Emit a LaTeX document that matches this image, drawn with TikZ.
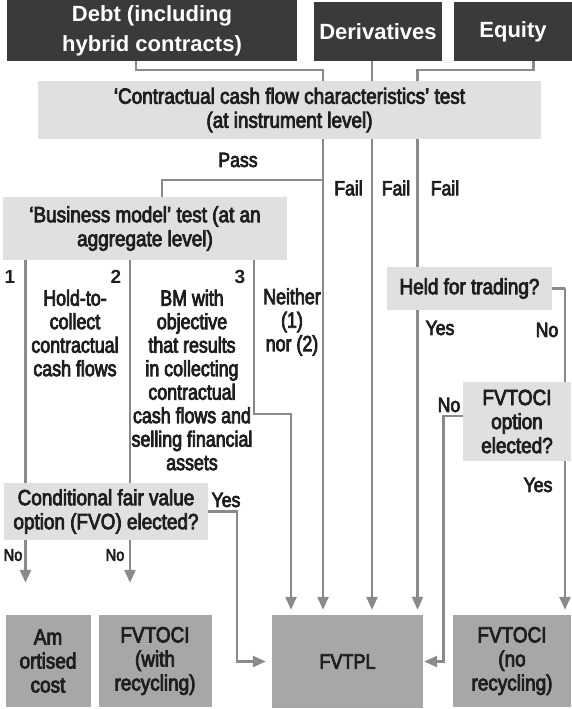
\documentclass[tikz,border=0pt]{standalone}
\usepackage{fontspec}
\newfontfamily\headfont{Liberation Sans}
\newfontfamily\boxfont{Liberation Sans}[FakeStretch=0.86,FakeBold=3.5]
\newfontfamily\descfont{Liberation Sans}[FakeStretch=0.81,FakeBold=3.5]
\usetikzlibrary{arrows.meta,positioning,calc}
\definecolor{darkbox}{HTML}{3A3A3A}
\definecolor{lightbox}{HTML}{E0E0E0}
\definecolor{midbox}{HTML}{A7A7A7}
\definecolor{linegray}{HTML}{8A8A8A}
\definecolor{inkgray}{HTML}{1E1E1E}
\tikzset{
  head/.style={fill=darkbox,text=white,inner sep=0pt,align=center,font=\headfont\bfseries\fontsize{22}{30}\selectfont},
  test/.style={fill=lightbox,text=inkgray,inner sep=0pt,align=center,font=\boxfont\fontsize{22}{24}\selectfont},
  result/.style={fill=midbox,text=inkgray,inner sep=0pt,align=center,font=\boxfont\fontsize{22}{24}\selectfont},
  desc/.style={text=inkgray,inner sep=0pt,align=center,font=\descfont\fontsize{22}{23.5}\selectfont},
  lbl/.style={text=inkgray,inner sep=0pt,font=\boxfont\fontsize{20.5}{23}\selectfont},
  small/.style={text=inkgray,inner sep=0pt,font=\boxfont\fontsize{17}{20}\selectfont},
  num/.style={text=inkgray,inner sep=0pt,font=\headfont\bfseries\fontsize{19}{22}\selectfont},
  line/.style={draw=linegray,line width=2.5pt},
  arrow/.style={line,shorten >=5pt,-{Triangle[length=13pt,width=11pt]}}
}

\begin{document}
\begin{tikzpicture}[x=1pt,y=-1pt]
  \useasboundingbox (0,0) rectangle (572,709);

  \node[head,minimum width=290pt,minimum height=61pt] (debt)   at (152,30.5) {Debt (including\\hybrid contracts)};
  \node[head,minimum width=128pt,minimum height=59pt] (deriv)  at (378,31.5) {Derivatives};
  \node[head,minimum width=118pt,minimum height=59pt] (equity) at (513,31.5) {Equity};

  \node[test,minimum width=503pt,minimum height=58pt] (cash)   at (289.5,110)   {‘Contractual cash flow characteristics’ test\\(at instrument level)};
  \node[test,minimum width=284pt,minimum height=63pt] (bm)     at (145,228.5)   {‘Business model’ test (at an\\aggregate level)};
  \node[test,minimum width=204pt,minimum height=57pt] (fvo)    at (106,511.5)   {Conditional fair value\\option (FVO) elected?};
  \node[test,minimum width=165pt,minimum height=43pt] (trade)  at (469.5,288.5) {Held for trading?};
  \node[test,minimum width=108pt,minimum height=79pt] (ociopt) at (517,421.5)   {FVTOCI\\option\\elected?};

  \node[result,minimum width=85pt,minimum height=92pt]    (amort)    at (48,661)      {Am\\ortised\\cost};
  \node[result,minimum width=113pt,minimum height=92pt]   (ocirec)   at (155,661)     {FVTOCI\\(with\\recycling)};
  \node[result,minimum width=151pt,minimum height=93pt,font=\boxfont\fontsize{21}{24}\selectfont] (fvtpl) at (347.5,661.5) {\raisebox{-5pt}{FVTPL}};
  \node[result,minimum width=118.5pt,minimum height=92pt] (ocinorec) at (512,661)     {FVTOCI\\(no\\recycling)};

  \node[lbl] (pass)  at (238,160)   {Pass};
  \node[lbl] (fail1) at (348.5,188) {Fail};
  \node[lbl] (fail2) at (396,188)   {Fail};
  \node[lbl] (fail3) at (445,188)   {Fail};
  \node[num] (one)   at (10,277)    {1};
  \node[num] (two)   at (116,277)   {2};
  \node[num] (three) at (240,277)   {3};
  \node[desc] (collect) at (75,333)  {Hold-to-\\collect\\contractual\\cash flows};
  \node[desc] (both)    at (192,380) {BM with\\objective\\that results\\in collecting\\contractual\\cash flows and\\selling financial\\assets};
  \node[desc] (neither) at (292,322) {Neither\\(1)\\nor (2)};
  \node[lbl]   (fvoyes)  at (226,500) {Yes};
  \node[small] (fvono1)  at (13,555)  {No};
  \node[small] (fvono2)  at (115,555) {No};
  \node[lbl]   (tradeyes) at (440,328) {Yes};
  \node[lbl]   (tradeno)  at (547,330) {No};
  \node[lbl]   (optno)    at (449,405) {No};
  \node[lbl]   (optyes)   at (538,485) {Yes};

  \coordinate (split) at ($(cash.south)+(33.5,41)$);

  \draw[line] ([xshift=-16pt]debt.south) -- ++(0,9) -| ([xshift=33.5pt]cash.north);
  \draw[line] ([xshift=-6pt]deriv.south) -- ([xshift=82.5pt]cash.north);
  \draw[line] ([xshift=20.5pt]equity.south) -- ++(0,9) -| ([xshift=128pt]cash.north);

  \draw[arrow] ([xshift=33.5pt]cash.south) -- ([xshift=-24.5pt]fvtpl.north);
  \draw[arrow] ([xshift=82.5pt]cash.south) -- ([xshift=24.5pt]fvtpl.north);
  \draw[line]  ([xshift=128pt]cash.south) -- ([xshift=-52pt]trade.north);
  \draw[arrow] ([xshift=-52pt]trade.south) -- ([xshift=70pt]fvtpl.north);
  \draw[line]  (split) -| ([xshift=17pt]bm.north);

  \draw[line]  ([xshift=-119.5pt]bm.south) -- ([xshift=-80.5pt]fvo.north);
  \draw[line]  ([xshift=-15pt]bm.south) -- ([xshift=24pt]fvo.north);
  \draw[arrow] ([xshift=109pt]bm.south) -- ++(0,154) -| ([xshift=-56.5pt]fvtpl.north);

  \draw[arrow,shorten >=32pt] ([xshift=-80.5pt]fvo.south) -- ([xshift=-22.5pt]amort.north);
  \draw[arrow,shorten >=32pt] ([xshift=24pt]fvo.south) -- ([xshift=-25pt]ocirec.north);
  \draw[arrow,shorten >=6pt] (fvo.east) -- ++(29,0) |- (fvtpl.west);

  \draw[line]  (trade.east) -- ++(13,0) -| ([xshift=48pt]ociopt.north);
  \draw[arrow] ([xshift=48pt]ociopt.south) -- ([xshift=53pt]ocinorec.north);
  \draw[arrow,shorten >=1pt] ([yshift=5.5pt]ociopt.west) -- ++(-19.5,0) |- (fvtpl.east);

\end{tikzpicture}
\end{document}
